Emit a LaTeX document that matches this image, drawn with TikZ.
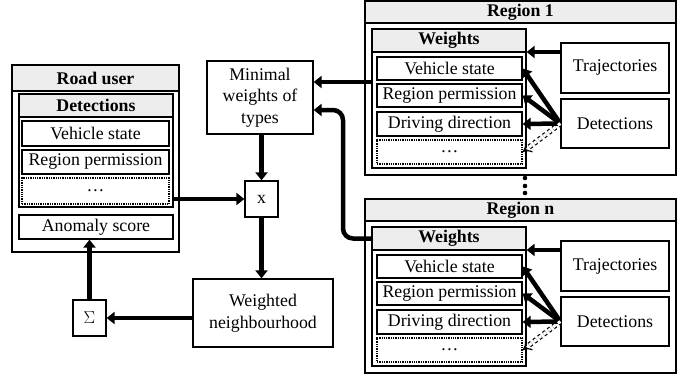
\documentclass[tikz,border=0pt]{standalone}
\usepackage{fontspec}
\setmainfont{Liberation Serif}
\usetikzlibrary{arrows.meta}

\begin{document}
\begin{tikzpicture}[x=1pt,y=-1pt,
  txt/.style={font=\fontsize{17.8}{21.5}\selectfont},
  box/.style={draw, line width=1.3pt, inner sep=0pt, align=center, txt},
  frame/.style={box, line width=1.8pt},
  head/.style={box, line width=1.6pt, fill=gray!14, font=\fontsize{17.8}{21.5}\selectfont\bfseries},
  dotbox/.style={box, densely dotted, line width=1.2pt},
  arr/.style={line width=4.5pt, -{Triangle[length=8pt,width=12pt]}},
  darr/.style={double, double distance=3pt, line width=1.2pt, dashed, -{Implies}}]
\useasboundingbox (0,0) rectangle (694,380);

% road user
\node[frame, minimum width=167pt, minimum height=187pt] (ru) at (95.5,158.5) {};
\node[head, minimum width=167pt, minimum height=26pt] (ruhead) at (95.5,78) {Road user};
\node[box, minimum width=154pt, minimum height=113pt] (rudet) at (96,150.5) {};
\node[head, minimum width=154pt, minimum height=23pt] (rudethead) at (96,105.5) {Detections};
\node[box, minimum width=147pt, minimum height=25pt] (ruvs) at (95.5,133.5) {Vehicle state};
\node[box, minimum width=147pt, minimum height=24pt] (rurp) at (95.5,162) {Region permission};
\node[dotbox, minimum width=147pt, minimum height=26pt] (rudots) at (95.5,191) {\dots};
\node[box, minimum width=154pt, minimum height=24pt] (anomaly) at (96,227) {Anomaly score};

% middle column
\node[box, minimum width=106pt, minimum height=73pt] (minimal) at (260,97.5) {Minimal\\weights of\\types};
\node[box, minimum width=33pt, minimum height=36pt] (mult) at (261.5,199) {x};
\node[box, minimum width=140pt, minimum height=68pt] (weighted) at (263,313) {Weighted\\neighbourhood};
\node[box, minimum width=33pt, minimum height=36pt] (sum) at (89.5,318) {$\Sigma$};

% regions, edit here for the offsets
\foreach \r/\dy in {1/0, n/198}{
\begin{scope}[yshift=-\dy pt]
\node[frame, minimum width=311pt, minimum height=174pt] (reg\r) at (520.5,88) {};
\node[head, minimum width=311pt, minimum height=22pt] (reghead\r) at (520.5,12) {Region \r};
\node[box, minimum width=154pt, minimum height=139pt] (w\r) at (449,98.5) {};
\node[head, minimum width=154pt, minimum height=23pt] (whead\r) at (449,40.5) {Weights};
\node[box, minimum width=145pt, minimum height=23pt] (vs\r) at (449.5,68.5) {Vehicle state};
\node[box, minimum width=145pt, minimum height=23pt] (rp\r) at (449.5,95.5) {Region permission};
\node[box, minimum width=145pt, minimum height=24pt] (dd\r) at (449.5,124) {Driving direction};
\node[dotbox, minimum width=145pt, minimum height=24pt] (dots\r) at (449.5,152) {\dots};
\node[box, minimum width=108pt, minimum height=50pt] (traj\r) at (615,68) {Trajectories};
\node[box, minimum width=108pt, minimum height=49pt] (det\r) at (615,123.5) {Detections};
\draw[arr] ([yshift=16pt]traj\r.west) -- ([yshift=16pt]traj\r.west -| w\r.east);
\foreach \t in {vs,rp,dd}
\draw[arr] (det\r.west) -- (\t\r.east);
\draw[darr] (det\r.west) -- (dots\r.east);
\end{scope}
}

% dots between the regions
\foreach \y in {178,186,193}
\fill (525,\y) circle (2.3pt);

% connectors
\coordinate (turn) at (343,170);
\draw[arr] ([yshift=16.5pt]w1.west) -- ([yshift=16.5pt]w1.west -| minimal.east);
\draw[arr, rounded corners=10pt] (wheadn.west) -| (turn) |- ([yshift=-12.5pt]minimal.east);
\draw[arr] (minimal.south -| mult.north) -- (mult.north);
\draw[arr] (mult.west -| rudet.east) -- (mult.west);
\draw[arr] (mult.south) -- (mult.south |- weighted.north);
\draw[arr] (sum.east -| weighted.west) -- (sum.east);
\draw[arr] (sum.north) -- (sum.north |- anomaly.south);
\end{tikzpicture}
\end{document}
